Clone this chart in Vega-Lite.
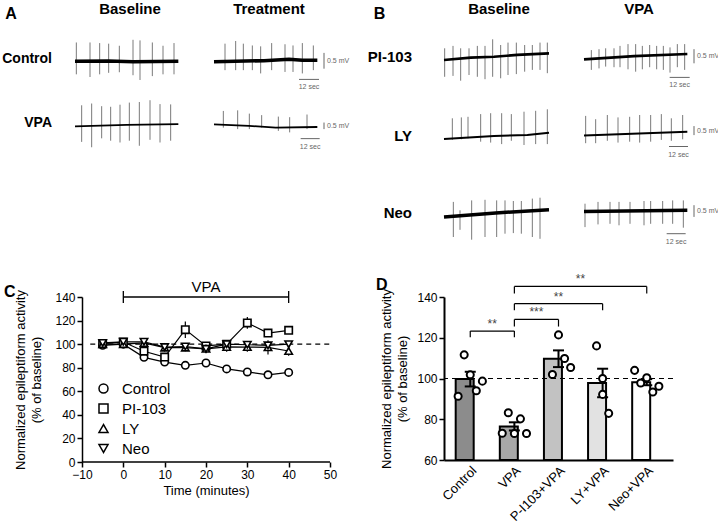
{
  "$schema": "https://vega.github.io/schema/vega-lite/v6.json",
  "background": "white",
  "padding": {"left": 2, "top": 2, "right": 0, "bottom": 0},
  "config": {
    "font": "Liberation Sans",
    "view": {"stroke": null},
    "axis": {"domainColor": "black", "tickColor": "black", "labelColor": "black", "titleColor": "black", "grid": false, "titleFontWeight": "normal", "labelFlush": false, "labelOverlap": false},
    "header": {"labelColor": "black", "labelFont": "Liberation Sans"},
    "title": {"color": "black", "font": "Liberation Sans"}
  },
  "datasets": {
    "tA": [
      {"kind": "base", "cond": "Control", "phase": "Baseline", "t": 0, "v": 0},
      {"kind": "base", "cond": "Control", "phase": "Baseline", "t": 20, "v": 0.01},
      {"kind": "base", "cond": "Control", "phase": "Baseline", "t": 35, "v": -0.02},
      {"kind": "base", "cond": "Control", "phase": "Baseline", "t": 62, "v": 0},
      {"kind": "base", "cond": "Control", "phase": "Treatment", "t": 0, "v": -0.02},
      {"kind": "base", "cond": "Control", "phase": "Treatment", "t": 30, "v": 0.02},
      {"kind": "base", "cond": "Control", "phase": "Treatment", "t": 45, "v": 0.07},
      {"kind": "base", "cond": "Control", "phase": "Treatment", "t": 53, "v": 0.03},
      {"kind": "base", "cond": "Control", "phase": "Treatment", "t": 62, "v": 0.03},
      {"kind": "base", "cond": "VPA", "phase": "Baseline", "t": 0, "v": -0.04},
      {"kind": "base", "cond": "VPA", "phase": "Baseline", "t": 31, "v": 0.01},
      {"kind": "base", "cond": "VPA", "phase": "Baseline", "t": 62, "v": 0.04},
      {"kind": "base", "cond": "VPA", "phase": "Treatment", "t": 0, "v": 0.03},
      {"kind": "base", "cond": "VPA", "phase": "Treatment", "t": 21, "v": -0.02},
      {"kind": "base", "cond": "VPA", "phase": "Treatment", "t": 37, "v": -0.08},
      {"kind": "base", "cond": "VPA", "phase": "Treatment", "t": 62, "v": -0.06},
      {"kind": "spike", "cond": "Control", "phase": "Baseline", "t": 0.8, "v": 0.63, "v2": -0.44},
      {"kind": "spike", "cond": "Control", "phase": "Baseline", "t": 9, "v": 0.63, "v2": -0.53},
      {"kind": "spike", "cond": "Control", "phase": "Baseline", "t": 14.8, "v": 0.61, "v2": -0.44},
      {"kind": "spike", "cond": "Control", "phase": "Baseline", "t": 20.2, "v": 0.59, "v2": -0.39},
      {"kind": "spike", "cond": "Control", "phase": "Baseline", "t": 26.6, "v": 0.52, "v2": -0.37},
      {"kind": "spike", "cond": "Control", "phase": "Baseline", "t": 34.8, "v": 0.72, "v2": -0.47},
      {"kind": "spike", "cond": "Control", "phase": "Baseline", "t": 39, "v": 0.7, "v2": -0.63},
      {"kind": "spike", "cond": "Control", "phase": "Baseline", "t": 46.4, "v": 0.63, "v2": -0.5},
      {"kind": "spike", "cond": "Control", "phase": "Baseline", "t": 52.8, "v": 0.52, "v2": -0.44},
      {"kind": "spike", "cond": "Control", "phase": "Baseline", "t": 59.4, "v": 0.61, "v2": -0.44},
      {"kind": "spike", "cond": "Control", "phase": "Treatment", "t": 6.6, "v": 0.59, "v2": -0.3},
      {"kind": "spike", "cond": "Control", "phase": "Treatment", "t": 13, "v": 0.68, "v2": -0.3},
      {"kind": "spike", "cond": "Control", "phase": "Treatment", "t": 17.6, "v": 0.59, "v2": -0.3},
      {"kind": "spike", "cond": "Control", "phase": "Treatment", "t": 23, "v": 0.53, "v2": -0.3},
      {"kind": "spike", "cond": "Control", "phase": "Treatment", "t": 28, "v": 0.5, "v2": -0.41},
      {"kind": "spike", "cond": "Control", "phase": "Treatment", "t": 34.6, "v": 0.61, "v2": -0.3},
      {"kind": "spike", "cond": "Control", "phase": "Treatment", "t": 42.6, "v": 0.57, "v2": -0.36},
      {"kind": "spike", "cond": "Control", "phase": "Treatment", "t": 47.4, "v": 0.53, "v2": -0.36},
      {"kind": "spike", "cond": "Control", "phase": "Treatment", "t": 53, "v": 0.61, "v2": -0.41},
      {"kind": "spike", "cond": "Control", "phase": "Treatment", "t": 59.6, "v": 0.53, "v2": -0.3},
      {"kind": "spike", "cond": "VPA", "phase": "Baseline", "t": 4, "v": 0.67, "v2": -0.56},
      {"kind": "spike", "cond": "VPA", "phase": "Baseline", "t": 10, "v": 0.73, "v2": -0.74},
      {"kind": "spike", "cond": "VPA", "phase": "Baseline", "t": 16, "v": 0.64, "v2": -0.44},
      {"kind": "spike", "cond": "VPA", "phase": "Baseline", "t": 21.4, "v": 0.62, "v2": -0.52},
      {"kind": "spike", "cond": "VPA", "phase": "Baseline", "t": 27, "v": 0.69, "v2": -0.58},
      {"kind": "spike", "cond": "VPA", "phase": "Baseline", "t": 32.6, "v": 0.76, "v2": -0.52},
      {"kind": "spike", "cond": "VPA", "phase": "Baseline", "t": 38.6, "v": 0.78, "v2": -0.69},
      {"kind": "spike", "cond": "VPA", "phase": "Baseline", "t": 45, "v": 0.84, "v2": -0.49},
      {"kind": "spike", "cond": "VPA", "phase": "Baseline", "t": 51, "v": 0.71, "v2": -0.58},
      {"kind": "spike", "cond": "VPA", "phase": "Baseline", "t": 57.4, "v": 0.7, "v2": -0.52},
      {"kind": "spike", "cond": "VPA", "phase": "Treatment", "t": 5.6, "v": 0.48, "v2": -0.08},
      {"kind": "spike", "cond": "VPA", "phase": "Treatment", "t": 14.2, "v": 0.5, "v2": -0.13},
      {"kind": "spike", "cond": "VPA", "phase": "Treatment", "t": 21.2, "v": 0.39, "v2": -0.13},
      {"kind": "spike", "cond": "VPA", "phase": "Treatment", "t": 28.6, "v": 0.34, "v2": -0.08},
      {"kind": "spike", "cond": "VPA", "phase": "Treatment", "t": 38.6, "v": 0.29, "v2": -0.19},
      {"kind": "spike", "cond": "VPA", "phase": "Treatment", "t": 45.4, "v": 0.27, "v2": -0.24},
      {"kind": "spike", "cond": "VPA", "phase": "Treatment", "t": 55.8, "v": 0.36, "v2": -0.13},
      {"kind": "vbar", "cond": "Control", "phase": "Treatment", "t": 66, "v": -0.25, "v2": 0.28},
      {"kind": "hbar", "cond": "Control", "phase": "Treatment", "t": 51, "t2": 63, "v": -0.61},
      {"kind": "mv", "cond": "Control", "phase": "Treatment", "t": 66, "v": 0.01, "label": "0.5 mV"},
      {"kind": "sec", "cond": "Control", "phase": "Treatment", "t": 57, "v": -0.61, "label": "12 sec"},
      {"kind": "vbar", "cond": "VPA", "phase": "Treatment", "t": 66, "v": -0.13, "v2": 0.09},
      {"kind": "hbar", "cond": "VPA", "phase": "Treatment", "t": 52, "t2": 63.4, "v": -0.45},
      {"kind": "mv", "cond": "VPA", "phase": "Treatment", "t": 66, "v": -0.02, "label": "0.5 mV"},
      {"kind": "sec", "cond": "VPA", "phase": "Treatment", "t": 57.7, "v": -0.45, "label": "12 sec"}
    ],
    "tB": [
      {"kind": "base", "cond": "PI-103", "phase": "Baseline", "t": 0, "v": -0.1},
      {"kind": "base", "cond": "PI-103", "phase": "Baseline", "t": 16, "v": -0.02},
      {"kind": "base", "cond": "PI-103", "phase": "Baseline", "t": 30, "v": 0.01},
      {"kind": "base", "cond": "PI-103", "phase": "Baseline", "t": 44, "v": 0.07},
      {"kind": "base", "cond": "PI-103", "phase": "Baseline", "t": 63, "v": 0.12},
      {"kind": "base", "cond": "PI-103", "phase": "VPA", "t": 0, "v": -0.08},
      {"kind": "base", "cond": "PI-103", "phase": "VPA", "t": 30, "v": 0.03},
      {"kind": "base", "cond": "PI-103", "phase": "VPA", "t": 62, "v": 0.1},
      {"kind": "base", "cond": "LY", "phase": "Baseline", "t": 0, "v": -0.1},
      {"kind": "base", "cond": "LY", "phase": "Baseline", "t": 30, "v": 0},
      {"kind": "base", "cond": "LY", "phase": "Baseline", "t": 50, "v": 0.03},
      {"kind": "base", "cond": "LY", "phase": "Baseline", "t": 63, "v": 0.11},
      {"kind": "base", "cond": "LY", "phase": "VPA", "t": 0, "v": 0.02},
      {"kind": "base", "cond": "LY", "phase": "VPA", "t": 62, "v": 0.14},
      {"kind": "base", "cond": "Neo", "phase": "Baseline", "t": 0, "v": -0.13},
      {"kind": "base", "cond": "Neo", "phase": "Baseline", "t": 31, "v": 0},
      {"kind": "base", "cond": "Neo", "phase": "Baseline", "t": 63, "v": 0.11},
      {"kind": "base", "cond": "Neo", "phase": "VPA", "t": 0, "v": 0.05},
      {"kind": "base", "cond": "Neo", "phase": "VPA", "t": 62, "v": 0.09},
      {"kind": "spike", "cond": "PI-103", "phase": "Baseline", "t": 0.4, "v": 0.29, "v2": -0.66},
      {"kind": "spike", "cond": "PI-103", "phase": "Baseline", "t": 5.4, "v": 0.37, "v2": -0.63},
      {"kind": "spike", "cond": "PI-103", "phase": "Baseline", "t": 10, "v": 0.29, "v2": -0.79},
      {"kind": "spike", "cond": "PI-103", "phase": "Baseline", "t": 15, "v": 0.29, "v2": -0.6},
      {"kind": "spike", "cond": "PI-103", "phase": "Baseline", "t": 20, "v": 0.37, "v2": -0.66},
      {"kind": "spike", "cond": "PI-103", "phase": "Baseline", "t": 24.6, "v": 0.37, "v2": -0.74},
      {"kind": "spike", "cond": "PI-103", "phase": "Baseline", "t": 29.2, "v": 0.59, "v2": -0.66},
      {"kind": "spike", "cond": "PI-103", "phase": "Baseline", "t": 34, "v": 0.4, "v2": -0.71},
      {"kind": "spike", "cond": "PI-103", "phase": "Baseline", "t": 38.4, "v": 0.48, "v2": -0.6},
      {"kind": "spike", "cond": "PI-103", "phase": "Baseline", "t": 43.4, "v": 0.48, "v2": -0.57},
      {"kind": "spike", "cond": "PI-103", "phase": "Baseline", "t": 48.4, "v": 0.4, "v2": -0.49},
      {"kind": "spike", "cond": "PI-103", "phase": "Baseline", "t": 53, "v": 0.4, "v2": -0.43},
      {"kind": "spike", "cond": "PI-103", "phase": "Baseline", "t": 57.6, "v": 0.48, "v2": -0.43},
      {"kind": "spike", "cond": "PI-103", "phase": "Baseline", "t": 62, "v": 0.48, "v2": -0.54},
      {"kind": "spike", "cond": "PI-103", "phase": "VPA", "t": 4.4, "v": 0.23, "v2": -0.43},
      {"kind": "spike", "cond": "PI-103", "phase": "VPA", "t": 9, "v": 0.26, "v2": -0.38},
      {"kind": "spike", "cond": "PI-103", "phase": "VPA", "t": 13, "v": 0.29, "v2": -0.32},
      {"kind": "spike", "cond": "PI-103", "phase": "VPA", "t": 18, "v": 0.29, "v2": -0.34},
      {"kind": "spike", "cond": "PI-103", "phase": "VPA", "t": 21.6, "v": 0.37, "v2": -0.34},
      {"kind": "spike", "cond": "PI-103", "phase": "VPA", "t": 26.4, "v": 0.43, "v2": -0.41},
      {"kind": "spike", "cond": "PI-103", "phase": "VPA", "t": 31, "v": 0.43, "v2": -0.49},
      {"kind": "spike", "cond": "PI-103", "phase": "VPA", "t": 35, "v": 0.37, "v2": -0.41},
      {"kind": "spike", "cond": "PI-103", "phase": "VPA", "t": 39.4, "v": 0.4, "v2": -0.34},
      {"kind": "spike", "cond": "PI-103", "phase": "VPA", "t": 43.6, "v": 0.37, "v2": -0.41},
      {"kind": "spike", "cond": "PI-103", "phase": "VPA", "t": 47.6, "v": 0.37, "v2": -0.43},
      {"kind": "spike", "cond": "PI-103", "phase": "VPA", "t": 51.6, "v": 0.32, "v2": -0.52},
      {"kind": "spike", "cond": "PI-103", "phase": "VPA", "t": 56, "v": 0.43, "v2": -0.34},
      {"kind": "spike", "cond": "PI-103", "phase": "VPA", "t": 60.4, "v": 0.43, "v2": -0.43},
      {"kind": "spike", "cond": "LY", "phase": "Baseline", "t": 5, "v": 0.59, "v2": -0.13},
      {"kind": "spike", "cond": "LY", "phase": "Baseline", "t": 10.4, "v": 0.62, "v2": -0.11},
      {"kind": "spike", "cond": "LY", "phase": "Baseline", "t": 14.4, "v": 0.64, "v2": -0.08},
      {"kind": "spike", "cond": "LY", "phase": "Baseline", "t": 22, "v": 0.73, "v2": -0.19},
      {"kind": "spike", "cond": "LY", "phase": "Baseline", "t": 28, "v": 0.76, "v2": -0.22},
      {"kind": "spike", "cond": "LY", "phase": "Baseline", "t": 34.6, "v": 0.76, "v2": -0.27},
      {"kind": "spike", "cond": "LY", "phase": "Baseline", "t": 40.4, "v": 0.73, "v2": -0.16},
      {"kind": "spike", "cond": "LY", "phase": "Baseline", "t": 48, "v": 0.81, "v2": -0.3},
      {"kind": "spike", "cond": "LY", "phase": "Baseline", "t": 55, "v": 0.84, "v2": -0.27},
      {"kind": "spike", "cond": "LY", "phase": "Baseline", "t": 62, "v": 0.89, "v2": -0.27},
      {"kind": "spike", "cond": "LY", "phase": "VPA", "t": 1, "v": 0.67, "v2": -0.24},
      {"kind": "spike", "cond": "LY", "phase": "VPA", "t": 7, "v": 0.56, "v2": -0.24},
      {"kind": "spike", "cond": "LY", "phase": "VPA", "t": 14, "v": 0.7, "v2": -0.16},
      {"kind": "spike", "cond": "LY", "phase": "VPA", "t": 20.4, "v": 0.62, "v2": -0.22},
      {"kind": "spike", "cond": "LY", "phase": "VPA", "t": 27.4, "v": 0.64, "v2": -0.19},
      {"kind": "spike", "cond": "LY", "phase": "VPA", "t": 33.4, "v": 0.7, "v2": -0.22},
      {"kind": "spike", "cond": "LY", "phase": "VPA", "t": 40, "v": 0.7, "v2": -0.19},
      {"kind": "spike", "cond": "LY", "phase": "VPA", "t": 46.4, "v": 0.73, "v2": -0.13},
      {"kind": "spike", "cond": "LY", "phase": "VPA", "t": 52.4, "v": 0.59, "v2": -0.16},
      {"kind": "spike", "cond": "LY", "phase": "VPA", "t": 59.2, "v": 0.7, "v2": -0.11},
      {"kind": "spike", "cond": "Neo", "phase": "Baseline", "t": 5.6, "v": 0.37, "v2": -0.8},
      {"kind": "spike", "cond": "Neo", "phase": "Baseline", "t": 9.6, "v": 0.09, "v2": -0.56},
      {"kind": "spike", "cond": "Neo", "phase": "Baseline", "t": 16.6, "v": 0.42, "v2": -0.89},
      {"kind": "spike", "cond": "Neo", "phase": "Baseline", "t": 24.6, "v": 0.44, "v2": -0.8},
      {"kind": "spike", "cond": "Neo", "phase": "Baseline", "t": 31.6, "v": 0.42, "v2": -0.8},
      {"kind": "spike", "cond": "Neo", "phase": "Baseline", "t": 36.6, "v": 0.42, "v2": -0.69},
      {"kind": "spike", "cond": "Neo", "phase": "Baseline", "t": 41.6, "v": 0.4, "v2": -0.67},
      {"kind": "spike", "cond": "Neo", "phase": "Baseline", "t": 46.4, "v": 0.4, "v2": -0.69},
      {"kind": "spike", "cond": "Neo", "phase": "Baseline", "t": 53, "v": 0.48, "v2": -0.8},
      {"kind": "spike", "cond": "Neo", "phase": "Baseline", "t": 57.6, "v": 0.51, "v2": -0.86},
      {"kind": "spike", "cond": "Neo", "phase": "VPA", "t": 0.6, "v": 0.31, "v2": -0.47},
      {"kind": "spike", "cond": "Neo", "phase": "VPA", "t": 8.4, "v": 0.37, "v2": -0.38},
      {"kind": "spike", "cond": "Neo", "phase": "VPA", "t": 15.6, "v": 0.37, "v2": -0.36},
      {"kind": "spike", "cond": "Neo", "phase": "VPA", "t": 21, "v": 0.37, "v2": -0.41},
      {"kind": "spike", "cond": "Neo", "phase": "VPA", "t": 27.6, "v": 0.37, "v2": -0.36},
      {"kind": "spike", "cond": "Neo", "phase": "VPA", "t": 36, "v": 0.4, "v2": -0.41},
      {"kind": "spike", "cond": "Neo", "phase": "VPA", "t": 40, "v": 0.4, "v2": -0.36},
      {"kind": "spike", "cond": "Neo", "phase": "VPA", "t": 47.2, "v": 0.4, "v2": -0.36},
      {"kind": "spike", "cond": "Neo", "phase": "VPA", "t": 53.2, "v": 0.42, "v2": -0.36},
      {"kind": "spike", "cond": "Neo", "phase": "VPA", "t": 59.6, "v": 0.42, "v2": -0.49},
      {"kind": "vbar", "cond": "PI-103", "phase": "VPA", "t": 66, "v": -0.21, "v2": 0.26},
      {"kind": "hbar", "cond": "PI-103", "phase": "VPA", "t": 51.4, "t2": 63.4, "v": -0.68},
      {"kind": "mv", "cond": "PI-103", "phase": "VPA", "t": 66, "v": 0.02, "label": "0.5 mV"},
      {"kind": "sec", "cond": "PI-103", "phase": "VPA", "t": 57.4, "v": -0.68, "label": "12 sec"},
      {"kind": "vbar", "cond": "LY", "phase": "VPA", "t": 66, "v": 0.03, "v2": 0.33},
      {"kind": "hbar", "cond": "LY", "phase": "VPA", "t": 51, "t2": 62.4, "v": -0.35},
      {"kind": "mv", "cond": "LY", "phase": "VPA", "t": 66, "v": 0.18, "label": "0.5 mV"},
      {"kind": "sec", "cond": "LY", "phase": "VPA", "t": 56.7, "v": -0.35, "label": "12 sec"},
      {"kind": "vbar", "cond": "Neo", "phase": "VPA", "t": 66, "v": -0.13, "v2": 0.26},
      {"kind": "hbar", "cond": "Neo", "phase": "VPA", "t": 49.6, "t2": 61, "v": -0.69},
      {"kind": "mv", "cond": "Neo", "phase": "VPA", "t": 66, "v": 0.06, "label": "0.5 mV"},
      {"kind": "sec", "cond": "Neo", "phase": "VPA", "t": 55.3, "v": -0.69, "label": "12 sec"}
    ],
    "cdata": [
      {"g": "Control", "t": -5, "m": 99, "lo": 97.5, "hi": 100.5}, {"g": "Control", "t": 0, "m": 100, "lo": 99.5, "hi": 100.5},
      {"g": "Control", "t": 5, "m": 88.8, "lo": 86.8, "hi": 90.8}, {"g": "Control", "t": 10, "m": 84.8, "lo": 82.8, "hi": 86.8},
      {"g": "Control", "t": 15, "m": 82, "lo": 80.5, "hi": 83.5}, {"g": "Control", "t": 20, "m": 84, "lo": 82.5, "hi": 85.5},
      {"g": "Control", "t": 25, "m": 79, "lo": 77.5, "hi": 80.5}, {"g": "Control", "t": 30, "m": 76.4, "lo": 74.9, "hi": 77.9},
      {"g": "Control", "t": 35, "m": 74, "lo": 72.5, "hi": 75.5}, {"g": "Control", "t": 40, "m": 76, "lo": 74.5, "hi": 77.5},
      {"g": "PI-103", "t": -5, "m": 100.4, "lo": 99.4, "hi": 101.4}, {"g": "PI-103", "t": 0, "m": 101.8, "lo": 100.8, "hi": 102.8},
      {"g": "PI-103", "t": 5, "m": 94, "lo": 92, "hi": 96}, {"g": "PI-103", "t": 10, "m": 89, "lo": 86, "hi": 92},
      {"g": "PI-103", "t": 15, "m": 112.3, "lo": 105.3, "hi": 119.3}, {"g": "PI-103", "t": 20, "m": 98.5, "lo": 95.5, "hi": 101.5},
      {"g": "PI-103", "t": 25, "m": 100, "lo": 98, "hi": 102}, {"g": "PI-103", "t": 30, "m": 118, "lo": 113, "hi": 123},
      {"g": "PI-103", "t": 35, "m": 109.4, "lo": 106.4, "hi": 112.4}, {"g": "PI-103", "t": 40, "m": 111.7, "lo": 108.7, "hi": 114.7},
      {"g": "LY", "t": -5, "m": 100, "lo": 99, "hi": 101}, {"g": "LY", "t": 0, "m": 100, "lo": 99, "hi": 101},
      {"g": "LY", "t": 5, "m": 101, "lo": 99, "hi": 103}, {"g": "LY", "t": 10, "m": 97, "lo": 95, "hi": 99},
      {"g": "LY", "t": 15, "m": 97, "lo": 94, "hi": 100}, {"g": "LY", "t": 20, "m": 96, "lo": 93, "hi": 99},
      {"g": "LY", "t": 25, "m": 97.6, "lo": 93.6, "hi": 101.6}, {"g": "LY", "t": 30, "m": 97.5, "lo": 93.5, "hi": 101.5},
      {"g": "LY", "t": 35, "m": 97.3, "lo": 91.3, "hi": 103.3}, {"g": "LY", "t": 40, "m": 94.2, "lo": 90.2, "hi": 98.2},
      {"g": "Neo", "t": -5, "m": 101, "lo": 100, "hi": 102}, {"g": "Neo", "t": 0, "m": 102, "lo": 101, "hi": 103},
      {"g": "Neo", "t": 5, "m": 102, "lo": 100, "hi": 104}, {"g": "Neo", "t": 10, "m": 97.5, "lo": 95.5, "hi": 99.5},
      {"g": "Neo", "t": 15, "m": 98, "lo": 96, "hi": 100}, {"g": "Neo", "t": 20, "m": 96, "lo": 93, "hi": 99},
      {"g": "Neo", "t": 25, "m": 100, "lo": 97, "hi": 103}, {"g": "Neo", "t": 30, "m": 99.5, "lo": 97.5, "hi": 101.5},
      {"g": "Neo", "t": 35, "m": 99, "lo": 97, "hi": 101}, {"g": "Neo", "t": 40, "m": 100, "lo": 98, "hi": 102}
    ],
    "dsum": [
      {"g": "Control", "m": 99.7, "lo": 96.1, "hi": 103.3},
      {"g": "VPA", "m": 76.5, "lo": 74.5, "hi": 78.5},
      {"g": "P-I103+VPA", "m": 109.7, "lo": 105.6, "hi": 113.8},
      {"g": "LY+VPA", "m": 97.8, "lo": 90.8, "hi": 104.8},
      {"g": "Neo+VPA", "m": 98.2, "lo": 96.7, "hi": 99.7}
    ],
    "dpts": [
      {"g": "Control", "rep": 1, "v": 91.3}, {"g": "Control", "rep": 2, "v": 111.6}, {"g": "Control", "rep": 3, "v": 101.8}, {"g": "Control", "rep": 4, "v": 94}, {"g": "Control", "rep": 5, "v": 98.7},
      {"g": "VPA", "rep": 1, "v": 73.1}, {"g": "VPA", "rep": 2, "v": 83.2}, {"g": "VPA", "rep": 3, "v": 73}, {"g": "VPA", "rep": 4, "v": 80.2}, {"g": "VPA", "rep": 5, "v": 73},
      {"g": "P-I103+VPA", "rep": 2, "v": 102}, {"g": "P-I103+VPA", "rep": 3, "v": 121.4}, {"g": "P-I103+VPA", "rep": 4, "v": 109.8}, {"g": "P-I103+VPA", "rep": 5, "v": 105.4},
      {"g": "LY+VPA", "rep": 2, "v": 116}, {"g": "LY+VPA", "rep": 3, "v": 100}, {"g": "LY+VPA", "rep": 3, "v": 92.2}, {"g": "LY+VPA", "rep": 4, "v": 82.9},
      {"g": "Neo+VPA", "rep": 1, "v": 104}, {"g": "Neo+VPA", "rep": 2, "v": 97.8}, {"g": "Neo+VPA", "rep": 3, "v": 100.4}, {"g": "Neo+VPA", "rep": 4, "v": 93.4}, {"g": "Neo+VPA", "rep": 5, "v": 96.2}
    ],
    "dbr": [
      {"from": "Control", "to": "VPA", "level": 123.3, "tick": 120.3, "label": "**", "at": "Control", "gap": true},
      {"from": "VPA", "to": "P-I103+VPA", "level": 129, "tick": 125.5, "label": "***", "at": "VPA", "gap": true},
      {"from": "VPA", "to": "LY+VPA", "level": 136.7, "tick": 133.5, "label": "**", "at": "P-I103+VPA", "gap": false},
      {"from": "VPA", "to": "Neo+VPA", "level": 145.2, "tick": 141.7, "label": "**", "at": "P-I103+VPA", "gap": true}
    ]
  },
  "spacing": 28,
  "columns": 1,
  "align": "none",
  "resolve": {"legend": {"shape": "independent"}, "scale": {"shape": "independent"}},
  "concat": [
    {
      "spacing": 17,
      "hconcat": [
        {
          "data": {"name": "tA"},
          "title": {"text": "A", "anchor": "start", "frame": "bounds", "fontSize": 16, "fontWeight": "bold", "dx": 3, "dy": 20, "offset": 0},
          "spacing": {"row": 0, "column": 9},
          "align": "each",
          "facet": {
            "row": {"field": "cond", "type": "nominal", "sort": ["Control", "VPA"], "header": {"title": null, "labelAngle": 0, "labelAlign": "left", "labelPadding": 13, "labelFontSize": 14, "labelFontWeight": "bold", "labelBaseline": "middle"}},
            "column": {"field": "phase", "type": "nominal", "sort": ["Baseline", "Treatment"], "header": {"title": null, "labelFontSize": 15, "labelFontWeight": "bold", "labelPadding": 10}}
          },
          "spec": {
            "width": 130,
            "height": 64,
            "layer": [
              {"transform": [{"filter": "datum.kind==='spike'"}], "mark": {"type": "rule", "color": "#7a7a7a", "strokeWidth": 1},
               "encoding": {"x": {"field": "t", "type": "quantitative", "scale": {"domain": [-6, 72]}, "axis": null}, "y": {"field": "v", "type": "quantitative", "scale": {"domain": [-1, 1.15]}, "axis": null}, "y2": {"field": "v2"}}},
              {"transform": [{"filter": "datum.kind==='base'"}], "mark": {"type": "line", "color": "black"},
               "encoding": {"x": {"field": "t", "type": "quantitative", "scale": {"domain": [-6, 72]}, "axis": null}, "y": {"field": "v", "type": "quantitative", "scale": {"domain": [-1, 1.15]}, "axis": null},
                 "strokeWidth": {"condition": {"test": "datum.cond==='VPA'", "value": 1.8}, "value": 3.5}}},
              {"transform": [{"filter": "datum.kind==='vbar'"}], "mark": {"type": "rule", "color": "#666", "strokeWidth": 1},
               "encoding": {"x": {"field": "t", "type": "quantitative", "scale": {"domain": [-6, 72]}, "axis": null}, "y": {"field": "v", "type": "quantitative", "scale": {"domain": [-1, 1.15]}, "axis": null}, "y2": {"field": "v2"}}},
              {"transform": [{"filter": "datum.kind==='hbar'"}], "mark": {"type": "rule", "color": "#666", "strokeWidth": 1},
               "encoding": {"x": {"field": "t", "type": "quantitative", "scale": {"domain": [-6, 72]}, "axis": null}, "x2": {"field": "t2"}, "y": {"field": "v", "type": "quantitative", "scale": {"domain": [-1, 1.15]}, "axis": null}}},
              {"transform": [{"filter": "datum.kind==='mv'"}], "mark": {"type": "text", "align": "left", "baseline": "middle", "dx": 3, "fontSize": 7, "color": "#666"},
               "encoding": {"x": {"field": "t", "type": "quantitative", "scale": {"domain": [-6, 72]}, "axis": null}, "y": {"field": "v", "type": "quantitative", "scale": {"domain": [-1, 1.15]}, "axis": null}, "text": {"field": "label"}}},
              {"transform": [{"filter": "datum.kind==='sec'"}], "mark": {"type": "text", "align": "center", "baseline": "top", "dy": 4, "fontSize": 7, "color": "#666"},
               "encoding": {"x": {"field": "t", "type": "quantitative", "scale": {"domain": [-6, 72]}, "axis": null}, "y": {"field": "v", "type": "quantitative", "scale": {"domain": [-1, 1.15]}, "axis": null}, "text": {"field": "label"}}}
            ]
          }
        },
        {
          "data": {"name": "tB"},
          "title": {"text": "B", "anchor": "start", "frame": "bounds", "fontSize": 16, "fontWeight": "bold", "dx": 6, "dy": 20, "offset": 0},
          "spacing": {"row": 17, "column": 10},
          "align": "each",
          "facet": {
            "row": {"field": "cond", "type": "nominal", "sort": ["PI-103", "LY", "Neo"], "header": {"title": null, "labelAngle": 0, "labelAlign": "left", "labelPadding": 22, "labelFontSize": 15, "labelFontWeight": "bold", "labelBaseline": "middle"}},
            "column": {"field": "phase", "type": "nominal", "sort": ["Baseline", "VPA"], "header": {"title": null, "labelFontSize": 15, "labelFontWeight": "bold", "labelPadding": 10}}
          },
          "spec": {
            "width": 130,
            "height": 60,
            "layer": [
              {"transform": [{"filter": "datum.kind==='spike'"}], "mark": {"type": "rule", "color": "#7a7a7a", "strokeWidth": 1},
               "encoding": {"x": {"field": "t", "type": "quantitative", "scale": {"domain": [-6, 72]}, "axis": null}, "y": {"field": "v", "type": "quantitative", "scale": {"domain": [-1, 1]}, "axis": null}, "y2": {"field": "v2"}}},
              {"transform": [{"filter": "datum.kind==='base'"}], "mark": {"type": "line", "color": "black"},
               "encoding": {"x": {"field": "t", "type": "quantitative", "scale": {"domain": [-6, 72]}, "axis": null}, "y": {"field": "v", "type": "quantitative", "scale": {"domain": [-1, 1]}, "axis": null},
                 "strokeWidth": {"condition": [{"test": "datum.cond==='LY'", "value": 2}, {"test": "datum.cond==='PI-103'", "value": 2.6}], "value": 3.5}}},
              {"transform": [{"filter": "datum.kind==='vbar'"}], "mark": {"type": "rule", "color": "#666", "strokeWidth": 1},
               "encoding": {"x": {"field": "t", "type": "quantitative", "scale": {"domain": [-6, 72]}, "axis": null}, "y": {"field": "v", "type": "quantitative", "scale": {"domain": [-1, 1]}, "axis": null}, "y2": {"field": "v2"}}},
              {"transform": [{"filter": "datum.kind==='hbar'"}], "mark": {"type": "rule", "color": "#666", "strokeWidth": 1},
               "encoding": {"x": {"field": "t", "type": "quantitative", "scale": {"domain": [-6, 72]}, "axis": null}, "x2": {"field": "t2"}, "y": {"field": "v", "type": "quantitative", "scale": {"domain": [-1, 1]}, "axis": null}}},
              {"transform": [{"filter": "datum.kind==='mv'"}], "mark": {"type": "text", "align": "left", "baseline": "middle", "dx": 3, "fontSize": 7, "color": "#666"},
               "encoding": {"x": {"field": "t", "type": "quantitative", "scale": {"domain": [-6, 72]}, "axis": null}, "y": {"field": "v", "type": "quantitative", "scale": {"domain": [-1, 1]}, "axis": null}, "text": {"field": "label"}}},
              {"transform": [{"filter": "datum.kind==='sec'"}], "mark": {"type": "text", "align": "center", "baseline": "top", "dy": 4, "fontSize": 7, "color": "#666"},
               "encoding": {"x": {"field": "t", "type": "quantitative", "scale": {"domain": [-6, 72]}, "axis": null}, "y": {"field": "v", "type": "quantitative", "scale": {"domain": [-1, 1]}, "axis": null}, "text": {"field": "label"}}}
            ]
          }
        }
      ]
    },
    {
      "spacing": 38,
      "resolve": {"legend": {"shape": "independent"}, "scale": {"shape": "independent"}},
      "hconcat": [
        {
          "width": 265,
          "height": 165,
          "title": {"text": "C", "anchor": "start", "frame": "bounds", "fontSize": 16, "fontWeight": "bold", "dx": -11, "dy": 20, "offset": 0},
          "layer": [
            {"data": {"name": "cdata"}, "mark": {"type": "line", "color": "black", "strokeWidth": 1.2},
             "encoding": {
               "x": {"field": "t", "type": "quantitative", "scale": {"domain": [-14.11, 50], "nice": false},
                     "axis": {"title": "Time (minutes)", "titleX": 141, "domain": false, "values": [-10, 0, 10, 20, 30, 40, 50], "labelFontSize": 12, "titleFontSize": 13, "tickSize": 5, "tickWidth": 1.5, "labelPadding": 2, "titlePadding": 4, "labelOverlap": false}},
               "y": {"field": "m", "type": "quantitative", "scale": {"domain": [0, 140], "nice": false},
                     "axis": {"title": ["Normalized epileptiform activity", "(% of baseline)"], "offset": -17, "values": [0, 20, 40, 60, 80, 100, 120, 140], "tickCount": 8, "labelFontSize": 12, "titleFontSize": 13, "titleLineHeight": 16, "tickSize": 5, "domainWidth": 1.5, "tickWidth": 1.5, "titlePadding": 11, "labelOverlap": false}},
               "detail": {"field": "g"}}},
            {"data": {"values": [{"x": -10, "x2": 50, "y": 0}]}, "mark": {"type": "rule", "strokeWidth": 1.5, "color": "black"},
             "encoding": {"x": {"field": "x", "type": "quantitative"}, "x2": {"field": "x2"}, "y": {"field": "y", "type": "quantitative"}}},
            {"data": {"values": [{"x": -8, "x2": 50, "y": 100}]}, "mark": {"type": "rule", "strokeDash": [5, 4], "strokeWidth": 1.2, "color": "black"},
             "encoding": {"x": {"field": "x", "type": "quantitative"}, "x2": {"field": "x2"}, "y": {"field": "y", "type": "quantitative"}}},
            {"data": {"name": "cdata"}, "mark": {"type": "rule", "color": "black", "strokeWidth": 1.2},
             "encoding": {"x": {"field": "t", "type": "quantitative"}, "y": {"field": "lo", "type": "quantitative"}, "y2": {"field": "hi"}}},
            {"data": {"name": "cdata"}, "mark": {"type": "point", "filled": true, "fill": "white", "stroke": "black", "strokeWidth": 1.6, "size": 55, "opacity": 1},
             "encoding": {
               "x": {"field": "t", "type": "quantitative"},
               "y": {"field": "m", "type": "quantitative"},
               "shape": {"field": "g", "type": "nominal", "scale": {"domain": ["Control", "PI-103", "LY", "Neo"], "range": ["circle", "square", "triangle-up", "triangle-down"]},
                 "legend": {"title": null, "orient": "bottom-left", "offset": 5, "padding": 0, "symbolOffset": 26, "symbolSize": 81, "labelFontSize": 15, "labelColor": "black", "labelOffset": 11, "rowPadding": 4,
                   "encode": {"symbols": {"update": {
                     "stroke": {"value": "black"}, "strokeWidth": {"value": 1.6}, "fill": {"value": "white"}, "opacity": {"value": 1}, "fillOpacity": {"value": 1}, "strokeOpacity": {"value": 1}}}}}}}},
            {"data": {"values": [{"label": "VPA", "start": 0, "end": 40, "mid": 20, "level": 140, "lo": 135, "hi": 145}]},
             "layer": [
               {"mark": {"type": "rule", "color": "black", "strokeWidth": 1.3}, "encoding": {"x": {"field": "start", "type": "quantitative"}, "x2": {"field": "end"}, "y": {"field": "level", "type": "quantitative"}}},
               {"mark": {"type": "rule", "color": "black", "strokeWidth": 1.3}, "encoding": {"x": {"field": "start", "type": "quantitative"}, "y": {"field": "lo", "type": "quantitative"}, "y2": {"field": "hi"}}},
               {"mark": {"type": "rule", "color": "black", "strokeWidth": 1.3}, "encoding": {"x": {"field": "end", "type": "quantitative"}, "y": {"field": "lo", "type": "quantitative"}, "y2": {"field": "hi"}}},
               {"mark": {"type": "text", "fontSize": 15, "baseline": "bottom", "dy": -2, "color": "black"}, "encoding": {"x": {"field": "mid", "type": "quantitative"}, "y": {"field": "level", "type": "quantitative"}, "text": {"field": "label"}}}
             ]}
          ]
        },
        {
          "width": 229,
          "height": 163,
          "title": {"text": "D", "anchor": "start", "frame": "bounds", "fontSize": 16, "fontWeight": "bold", "dx": -5, "dy": 20, "offset": 0},
          "layer": [
            {"data": {"name": "dsum"}, "mark": {"type": "bar", "stroke": "black", "strokeWidth": 2},
             "encoding": {
               "x": {"field": "g", "type": "nominal", "scale": {"domain": ["Control", "VPA", "P-I103+VPA", "LY+VPA", "Neo+VPA"], "paddingInner": 0.34, "paddingOuter": 0.265},
                     "axis": {"title": null, "labelAngle": -45, "labelFontSize": 13, "ticks": false, "domainWidth": 2, "labelPadding": 4}},
               "y": {"field": "m", "type": "quantitative", "scale": {"domain": [60, 140]},
                     "axis": {"title": ["Normalized epileptiform activity", "(% of baseline)"], "values": [60, 80, 100, 120, 140], "labelFontSize": 12, "titleFontSize": 13, "titleLineHeight": 16, "tickSize": 5, "domainWidth": 2, "tickWidth": 1.5, "titlePadding": 7}},
               "y2": {"datum": 60},
               "fill": {"field": "g", "type": "nominal", "scale": {"domain": ["Control", "VPA", "P-I103+VPA", "LY+VPA", "Neo+VPA"], "range": ["#8c8c8c", "#a8a8a8", "#c2c2c2", "#e2e2e2", "#ffffff"]}, "legend": null}}},
            {"data": {"values": [{}]}, "mark": {"type": "rule", "strokeDash": [5, 4], "strokeWidth": 1.2, "color": "black"},
             "encoding": {"y": {"datum": 100, "type": "quantitative"}}},
            {"data": {"name": "dsum"}, "mark": {"type": "rule", "color": "black", "strokeWidth": 2},
             "encoding": {"x": {"field": "g", "type": "nominal"}, "y": {"field": "lo", "type": "quantitative"}, "y2": {"field": "hi"}}},
            {"data": {"name": "dsum"}, "mark": {"type": "tick", "color": "black", "thickness": 2, "size": 11, "opacity": 1},
             "encoding": {"x": {"field": "g", "type": "nominal"}, "y": {"field": "hi", "type": "quantitative"}}},
            {"data": {"name": "dsum"}, "mark": {"type": "tick", "color": "black", "thickness": 2, "size": 11, "opacity": 1},
             "encoding": {"x": {"field": "g", "type": "nominal"}, "y": {"field": "lo", "type": "quantitative"}}},
            {"data": {"name": "dpts"}, "mark": {"type": "point", "filled": true, "fill": "white", "stroke": "black", "strokeWidth": 2, "size": 50, "opacity": 1},
             "encoding": {"x": {"field": "g", "type": "nominal"}, "xOffset": {"field": "rep", "type": "nominal", "scale": {"paddingOuter": 0.4}}, "y": {"field": "v", "type": "quantitative"}}},
            {"data": {"name": "dbr"},
             "layer": [
               {"mark": {"type": "rule", "color": "black", "strokeWidth": 1.2}, "encoding": {"x": {"field": "from", "type": "nominal"}, "x2": {"field": "to"}, "y": {"field": "level", "type": "quantitative"}}},
               {"mark": {"type": "rule", "color": "black", "strokeWidth": 1.2}, "encoding": {"x": {"field": "from", "type": "nominal"}, "y": {"field": "level", "type": "quantitative"}, "y2": {"field": "tick"}}},
               {"mark": {"type": "rule", "color": "black", "strokeWidth": 1.2}, "encoding": {"x": {"field": "to", "type": "nominal"}, "y": {"field": "level", "type": "quantitative"}, "y2": {"field": "tick"}}},
               {"transform": [{"filter": "datum.gap"}], "mark": {"type": "text", "fontSize": 12, "baseline": "bottom", "dy": 0, "dx": 22, "color": "#444"}, "encoding": {"x": {"field": "at", "type": "nominal"}, "y": {"field": "level", "type": "quantitative"}, "text": {"field": "label"}}},
               {"transform": [{"filter": "!datum.gap"}], "mark": {"type": "text", "fontSize": 12, "baseline": "bottom", "dy": 0, "color": "#444"}, "encoding": {"x": {"field": "at", "type": "nominal"}, "y": {"field": "level", "type": "quantitative"}, "text": {"field": "label"}}}
             ]}
          ]
        }
      ]
    }
  ]
}
